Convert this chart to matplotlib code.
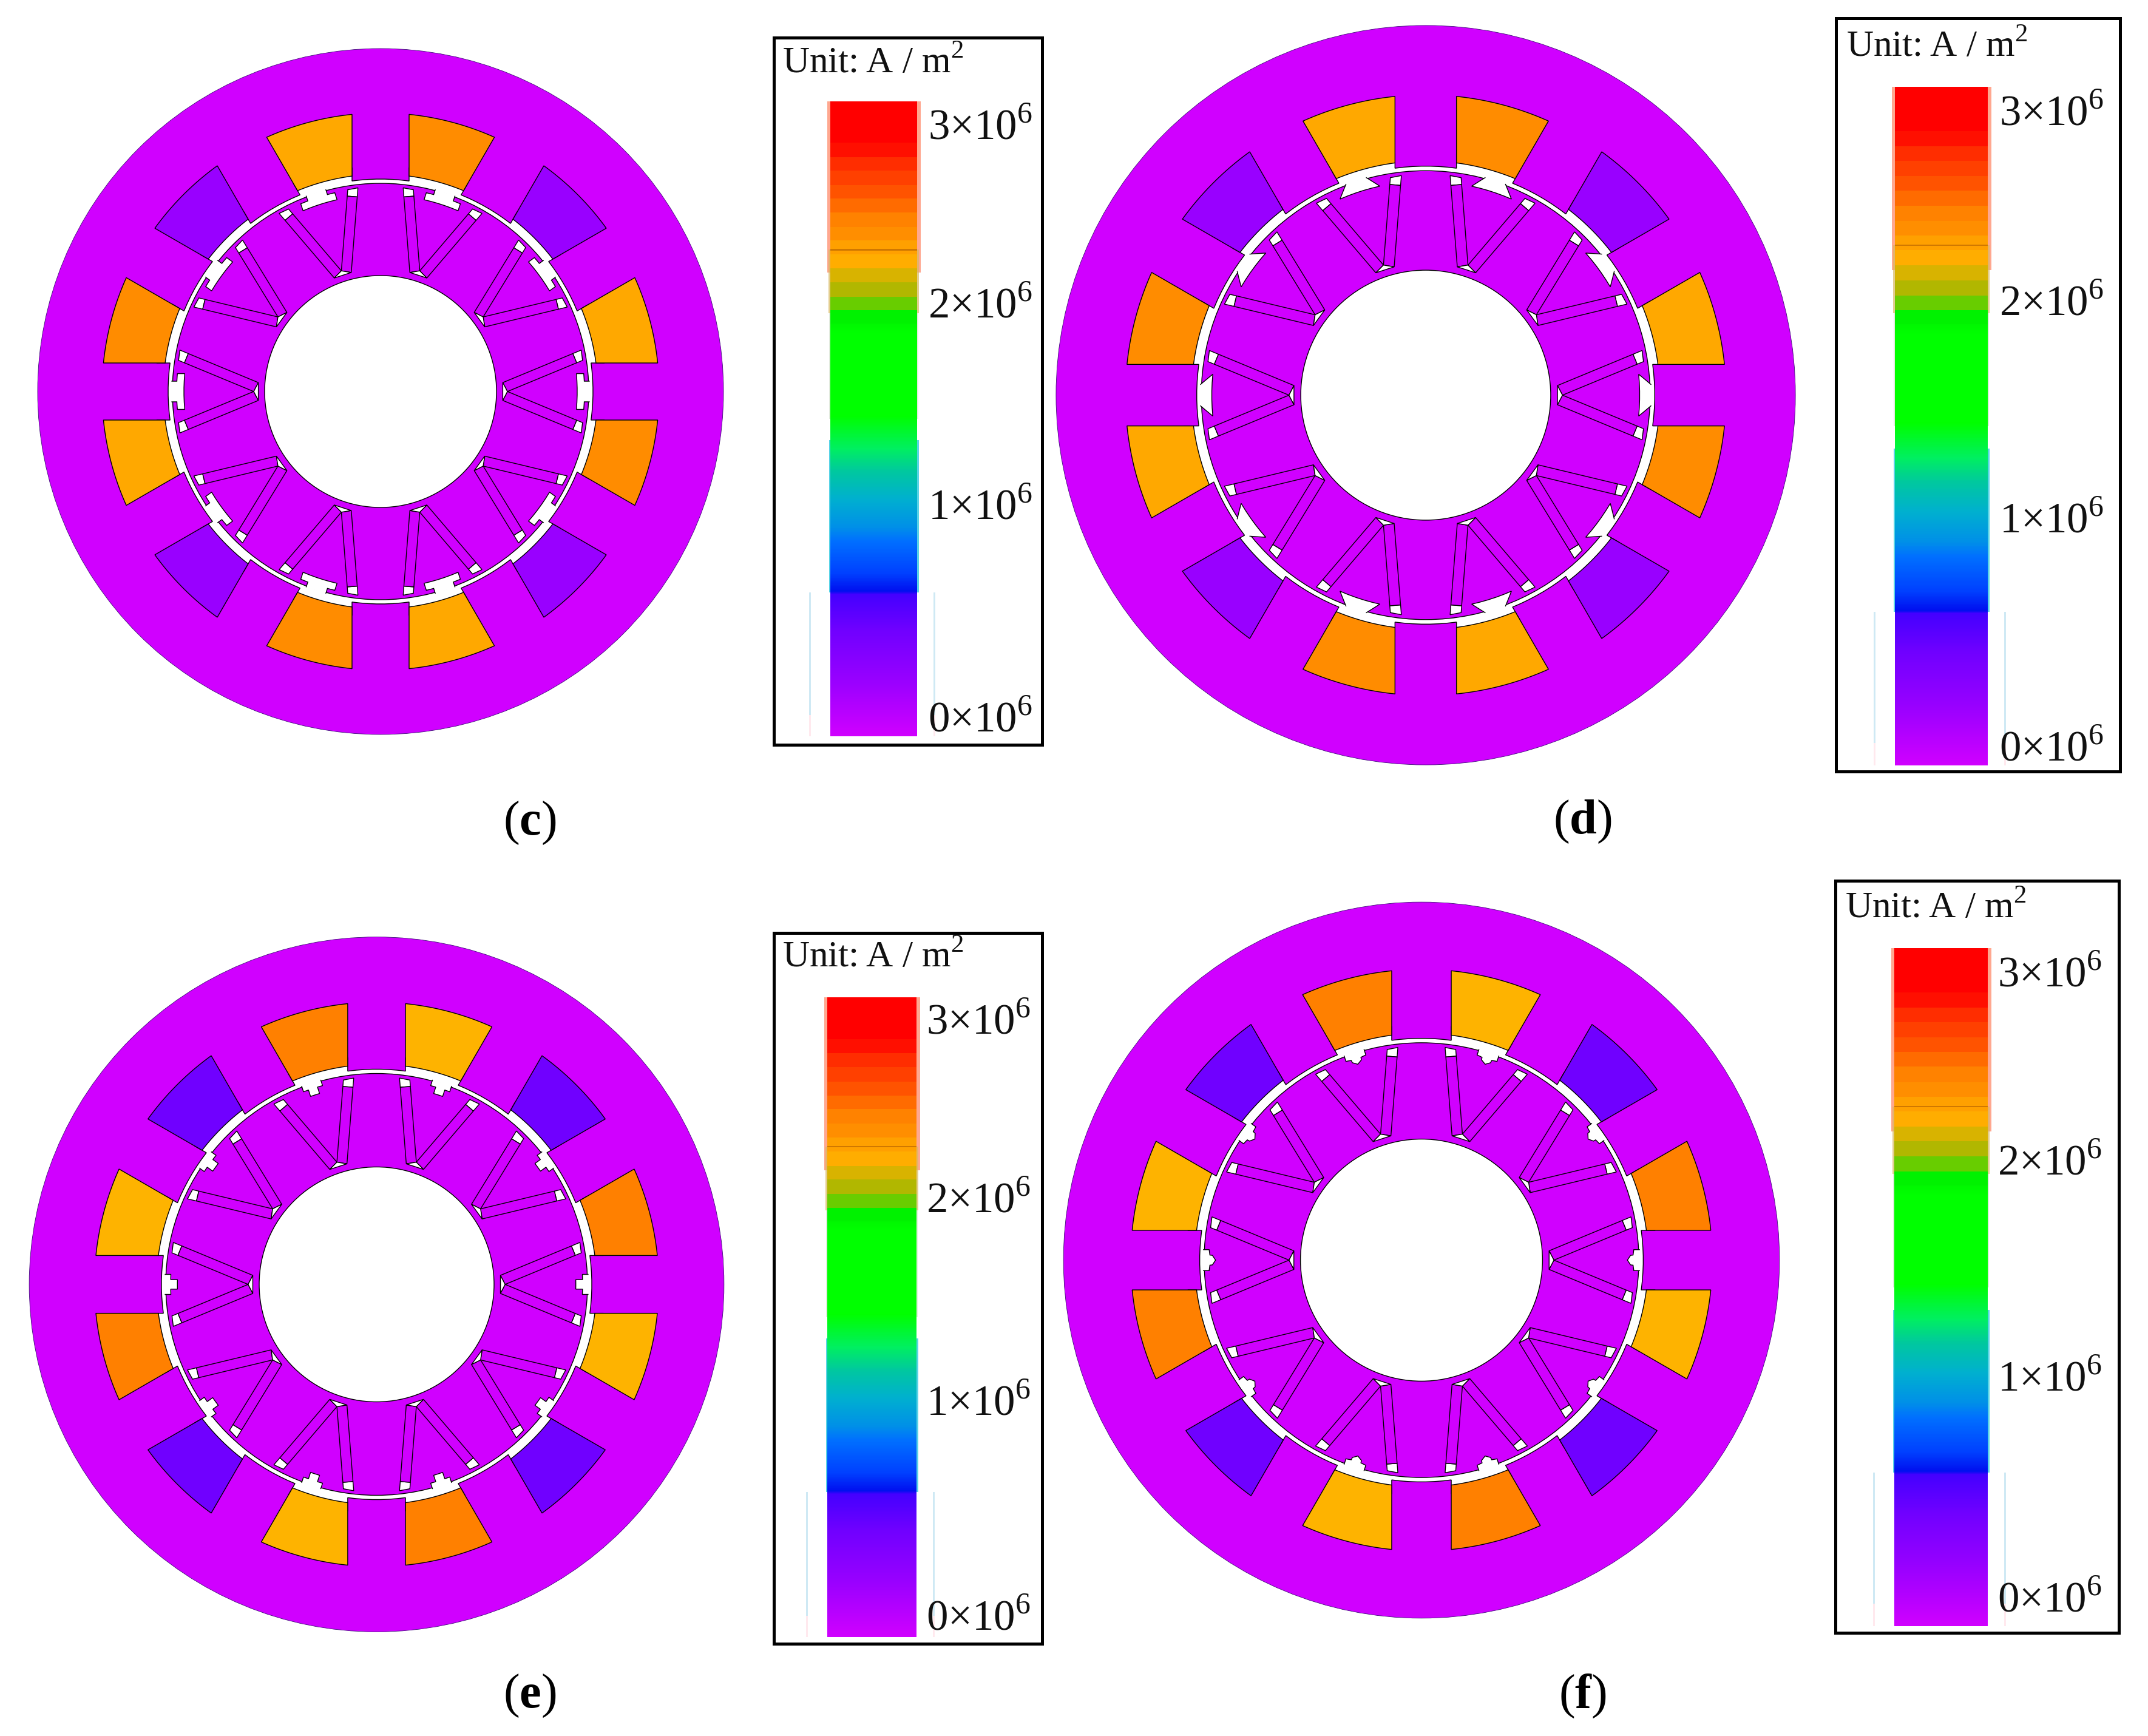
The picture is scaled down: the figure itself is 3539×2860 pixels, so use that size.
import numpy as np
import matplotlib
matplotlib.use("Agg")
import matplotlib.pyplot as plt
from matplotlib.colors import LinearSegmentedColormap
from matplotlib.patches import Circle, Polygon, Rectangle

plt.rcParams['font.family'] = ['Liberation Serif', 'DejaVu Serif']
plt.rcParams['mathtext.fontset'] = 'custom'
plt.rcParams['mathtext.rm'] = 'Liberation Serif'
plt.rcParams['mathtext.bf'] = 'Liberation Serif:bold'

# current density in the coils, 1e6 A/m2, slot centres at 15, 45, ... 345 deg
coil_c = [2.28, 0.26, 2.39, 2.28, 0.26, 2.39, 2.28, 0.26, 2.39, 2.28, 0.26, 2.39]
coil_d = [2.28, 0.26, 2.39, 2.28, 0.26, 2.39, 2.28, 0.26, 2.39, 2.28, 0.26, 2.39]
coil_e = [2.46, 0.50, 2.20, 2.46, 0.50, 2.20, 2.46, 0.50, 2.20, 2.46, 0.50, 2.20]
coil_f = [2.46, 0.50, 2.20, 2.46, 0.50, 2.20, 2.46, 0.50, 2.20, 2.46, 0.50, 2.20]

# colour scale of the legend
scale_vals = [0, 0.26, 0.50, 0.669, 0.685, 0.768, 0.922, 0.988, 1.119, 1.25, 1.36, 1.514,
              1.909, 1.997, 2.04, 2.107, 2.17, 2.20, 2.28, 2.39, 2.46, 2.568, 2.70, 2.81, 3.0]
scale_cols = ['#d000ff', '#9900ff', '#7000ff', '#4400ff', '#0010f0', '#0040ff', '#0070ff',
              '#0090e8', '#00b0d0', '#00c8a0', '#00f060', '#00ff00', '#00ff00', '#00f000',
              '#60d000', '#b0b800', '#c8b400', '#ffb300', '#ffa800', '#ff8c00', '#ff8000',
              '#ff5500', '#ff3000', '#ff0000', '#ff0000']
tick_labels = ['3×10$^{6}$', '2×10$^{6}$', '1×10$^{6}$', '0×10$^{6}$']
unit_label = 'Unit:\u2009A / m$^{2}$'

# rotor surface notches as (radius, tangential offset)
notch_c = [(345, 17), (336, 17), (336, 29.5), (324, 29.5), (324, -29.5), (336, -29.5), (336, -17), (345, -17)]
notch_d = [(345, 16), (327, 32), (327, -32), (345, -16)]
notch_e = [(345, 16.3), (335, 16.3), (335, 7.7), (324, 7.7), (324, -7.7), (335, -7.7), (335, -16.3), (345, -16.3)]
notch_f = [(345, 16.5), (335.5, 16.5), (334, 8), (330, 7.5), (325, 0), (330, -7.5), (334, -8), (335.5, -16.5), (345, -16.5)]

MAG = '#d000ff'
LW = 1.0
R_OUT, R_COIL_OUT, R_COIL_IN, R_TIP, R_ROTOR, R_HOLE = 565, 459, 358, 350, 343, 191
TOOTH_W = 47

cmap = LinearSegmentedColormap.from_list('J', [(v / 3.0, c) for v, c in zip(scale_vals, scale_cols)], N=1024)

fig = plt.figure(figsize=(35.39, 28.60), dpi=100)
ax = fig.add_axes([0, 0, 1, 1])


def poly(pts, face='none', edge='black', closed=True, lw=LW):
    if face == 'none':
        ax.add_patch(Polygon(pts, closed=closed, fill=False, edgecolor=edge, linewidth=lw))
    else:
        ax.add_patch(Polygon(pts, closed=closed, facecolor=face, edgecolor=edge, linewidth=lw))


def draw_motor(cx, cy, s, coils, notch):
    def P(r, deg):
        a = np.radians(deg)
        return cx + s * r * np.cos(a), cy - s * r * np.sin(a)

    def arc(r, d0, d1, n=24):
        return [P(r, d) for d in np.linspace(d0, d1, n)]

    ax.add_patch(Circle((cx, cy), R_OUT * s, facecolor=MAG, edgecolor='#40107a', linewidth=0.6))
    ax.add_patch(Circle((cx, cy), R_COIL_IN * s, facecolor='white', edgecolor='none'))

    # stator teeth
    for k in range(12):
        t = 30 * k
        tip = np.degrees(np.arcsin(TOOTH_W / R_TIP))
        root = np.degrees(np.arcsin(TOOTH_W / 372))
        pts = [P(372, t + root)] + arc(R_TIP, t + tip, t - tip, 8) + [P(372, t - root)]
        poly(pts, face=MAG, edge='none', lw=0)
        poly(pts, closed=False)

    # coils
    di = np.degrees(np.arcsin(TOOTH_W / R_COIL_IN))
    do = np.degrees(np.arcsin(TOOTH_W / R_COIL_OUT))
    for k, val in enumerate(coils):
        a0, a1 = 30 * k, 30 * (k + 1)
        pts = arc(R_COIL_IN, a0 + di, a1 - di) + arc(R_COIL_OUT, a1 - do, a0 + do)
        poly(pts, face=cmap(val / 3.0))

    ax.add_patch(Circle((cx, cy), R_ROTOR * s, facecolor=MAG, edgecolor='black', linewidth=LW))

    # ten poles
    for k in range(10):
        pole = 36 * k

        def Q(u, v):
            a = np.radians(pole)
            return (cx + s * (u * np.cos(a) - v * np.sin(a)),
                    cy - s * (u * np.sin(a) + v * np.cos(a)))

        # notch in polar form so the long edges follow the rotor
        dense = []
        for (r0, v0), (r1, v1) in zip(notch[:-1], notch[1:]):
            for f in np.linspace(0, 1, 6)[:-1]:
                r = r0 + f * (r1 - r0)
                v = v0 + f * (v1 - v0)
                dense.append(P(r, pole + np.degrees(v / r)))
        r, v = notch[-1]
        dense.append(P(r, pole + np.degrees(v / r)))
        poly(dense, face='white', edge='none', lw=0)
        poly(dense[0:], closed=False)

        # V magnets
        for sign in (1, -1):
            def A(p, q):
                dx, dy = np.cos(np.radians(22.5)), np.sin(np.radians(22.5))
                return Q(209 + p * dx - q * dy, sign * (p * dy + q * dx))

            poly([A(123.5, 0), A(134, 0), A(138.5, 16.5), A(123.5, 16.5)], face='white')
            poly([A(0, 0), A(123.5, 0), A(123.5, 16.5), A(-1.4, 16.5)], face=MAG)
        poly([Q(209, 0), Q(201.4, 14.7), Q(201.4, -14.7)], face='white')

    ax.add_patch(Circle((cx, cy), R_HOLE * s, facecolor='white', edgecolor='black', linewidth=LW))


def draw_legend(box, bar, ticks, label_x, unit_xy):
    L, R, T, B = box
    bl, br, bt, bb = bar
    h = bb - bt

    def Y(val):
        return bb - h * val / 3.0

    vals = np.linspace(0, 3, 1200)
    vals = np.where(vals > 1.95, np.round(vals / 0.066) * 0.066, vals)
    ax.imshow(vals[:, None], cmap=cmap, vmin=0, vmax=3, aspect='auto', origin='lower',
              extent=(bl, br, bb, bt), interpolation='nearest', zorder=1)

    # ghost strips left along the sides of the pasted scale
    strips = [(-5.5, 2.19, 3.0, '#ffa890', 1.0), (-3, 2.0, 2.3, '#d8b860', 0.7),
              (-2, 1.5, 2.0, '#c8d8c0', 0.5), (-2.5, 0.68, 1.4, '#30c8e0', 0.8)]
    for w, v0, v1, col, al in strips:
        for x0 in (bl + w, br):
            ax.add_patch(Rectangle((x0, Y(v1)), abs(w), Y(v0) - Y(v1), facecolor=col,
                                   edgecolor='none', alpha=al))
    for x0 in (bl - 35, br + 27):
        ax.add_patch(Rectangle((x0, Y(0.68)), 2.5, Y(0.1) - Y(0.68), facecolor='#c4e4f2',
                               edgecolor='none', alpha=0.8))
        ax.add_patch(Rectangle((x0, Y(0.1)), 2.5, Y(0) - Y(0.1), facecolor='#ffe4ea',
                               edgecolor='none', alpha=0.8))
    ax.add_patch(Rectangle((bl, Y(2.3) - 1), br - bl, 2.5, facecolor='#d07800', edgecolor='none'))

    ax.add_patch(Rectangle((L, T), R - L, B - T, facecolor='none', edgecolor='black', linewidth=3.6))
    for t, lab in zip(ticks, tick_labels):
        ax.text(label_x, t + 23, lab, fontsize=51, ha='left', va='baseline', color='#111111')
    ax.text(unit_xy[0], unit_xy[1], unit_label, fontsize=44, ha='left', va='baseline', color='#111111')


draw_motor(627, 645, 1.0, coil_c, notch_c)
draw_motor(2349, 651, 1.078, coil_d, notch_d)
draw_motor(620.5, 2116, 1.013, coil_e, notch_e)
draw_motor(2342, 2076, 1.044, coil_f, notch_f)

draw_legend((1275, 1717, 61.5, 1227), (1368, 1511, 167, 1213), [207, 501, 832, 1182], 1529, (1289, 120))
draw_legend((3025, 3493, 29.5, 1271), (3122, 3275, 143, 1261), [183.5, 497, 854, 1231], 3294, (3042, 92.6))
draw_legend((1275, 1717, 1537, 2708), (1363, 1510, 1643, 2697), [1681, 1975, 2309, 2663], 1526, (1289, 1593))
draw_legend((3024, 3491, 1451, 2690), (3121, 3275, 1562, 2679), [1602, 1912, 2268, 2632], 3291, (3040, 1512))

captions = [('c', 873, 1356), ('d', 2607, 1354), ('e', 873, 2794), ('f', 2607, 2794)]
for name, x, y in captions:
    ax.text(x, y, '($\\mathbf{%s}$)' % name, fontsize=58, ha='center', va='center', color='black')

ax.set_xlim(0, 3539)
ax.set_ylim(2860, 0)
ax.axis('off')
fig.savefig('out.png', dpi=100, facecolor='white')
